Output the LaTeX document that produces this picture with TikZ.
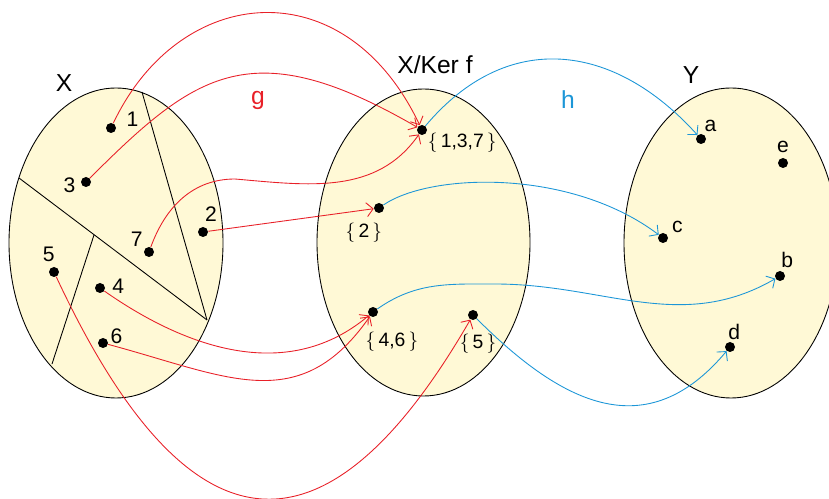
\documentclass[tikz,border=0pt]{standalone}
\usepackage{fontspec}
\setmainfont{Liberation Sans}
\usetikzlibrary{arrows.meta}
\definecolor{setfill}{RGB}{255,249,214}
\definecolor{gred}{RGB}{232,32,40}
\definecolor{hblue}{RGB}{28,150,215}

\begin{document}
\begin{tikzpicture}[
    pt/.style={circle,fill=black,inner sep=0pt,minimum size=2mm},
    num/.style={font=\fontsize{12}{14}\selectfont,anchor=center,inner sep=0pt},
    cls/.style={font=\fontsize{11}{13}\selectfont,anchor=center,inner sep=0pt},
    title/.style={font=\fontsize{14}{16}\selectfont},
    gmap/.style={gred,line width=0.5pt,-{Straight Barb[length=1.3mm,width=2.8mm]}},
    hmap/.style={hblue,line width=0.5pt,-{Straight Barb[length=1.3mm,width=2.8mm]}}
  ]
    \useasboundingbox (0,0) rectangle (16.58,9.96);

    % the three sets
    \draw[fill=setfill,line width=0.5pt] (2.32,5.10) ellipse (2.14 and 3.10);
    \draw[fill=setfill,line width=0.5pt] (8.47,5.11) ellipse (2.13 and 3.07);
    \draw[fill=setfill,line width=0.5pt] (14.62,5.10) ellipse (2.14 and 3.10);

    % classes of X
    \draw[line width=0.5pt] (2.84,8.12) -- (4.14,3.56);
    \draw[line width=0.5pt] (0.38,6.40) -- (4.14,3.56);
    \draw[line width=0.5pt] (1.88,5.26) -- (1.04,2.68);

    \node[title] (tX) at (1.28,8.30) {X};
    \node[title] (tK) at (8.70,8.66) {X/Ker f};
    \node[title] (tY) at (13.82,8.46) {Y};
    \node[title,gred] (tg) at (5.16,7.96) {g};
    \node[title,hblue] (th) at (11.36,7.96) {h};

    \foreach \n/\x/\y/\ang/\d in {1/2.22/7.40/23/0.36, 3/1.72/6.32/191/0.23,
        2/4.06/5.32/66/0.29, 7/2.98/4.92/135/0.24, 5/1.08/4.52/106/0.27,
        4/2.00/4.20/6/0.26, 6/2.06/3.10/25/0.19}
      \node[pt,label={[num,label distance=\d cm]\ang:\n}] (x\n) at (\x,\y) {};

    \node[pt,label={[cls,label distance=0.735cm]-17:$\{$\,1,3,7\,$\}$}] (A137) at (8.44,7.36) {};
    \node[pt,label={[cls,label distance=0.48cm]239:$\{$\,2\,$\}$}] (A2) at (7.58,5.80) {};
    \node[pt,label={[cls,label distance=0.59cm]-57:$\{$\,4,6\,$\}$}] (A46) at (7.46,3.72) {};
    \node[pt,label={[cls,label distance=0.47cm]-80:$\{$\,5\,$\}$}] (A5) at (9.46,3.66) {};

    \foreach \n/\x/\y/\ang/\d in {a/14.02/7.18/55/0.22, e/15.66/6.70/90/0.22,
        c/13.26/5.20/38/0.26, b/15.60/4.44/66/0.25, d/14.60/3.02/75/0.21}
      \node[pt,label={[num,label distance=\d cm]\ang:\n}] (\n) at (\x,\y) {};

    % g
    \draw[gmap] (x1) .. controls (3.6,10.3) and (6.9,10.6) .. (A137);
    \draw[gmap] (x3) .. controls (3.92,8.52) and (5.04,9.33) .. (A137);
    \draw[gmap] (x7) to[out=70,in=180] (4.7,6.38) to[out=-5,in=-125] (A137);
    \draw[gmap] (x2) -- (A2);
    \draw[gmap] (x4) to[out=-35,in=-140] (A46);
    \draw[gmap] (x6) to[out=-15,in=-125,looseness=1.2] (A46);
    \draw[gmap] (x5) .. controls (3.67,-1.03) and (6.4,-1.64) .. (A5);

    % h
    \draw[hmap] (A137) .. controls (10.13,9.37) and (12.26,9.13) .. (a);
    \draw[hmap] (A2) .. controls (8.6,6.5) and (11.4,6.6) .. (c);
    \draw[hmap] (A46) to[out=35,in=180] (9.9,4.28) to[out=0,in=-150] (b);
    \draw[hmap] (A5) to[out=-45,in=-130,looseness=1.25] (d);
\end{tikzpicture}
\end{document}
